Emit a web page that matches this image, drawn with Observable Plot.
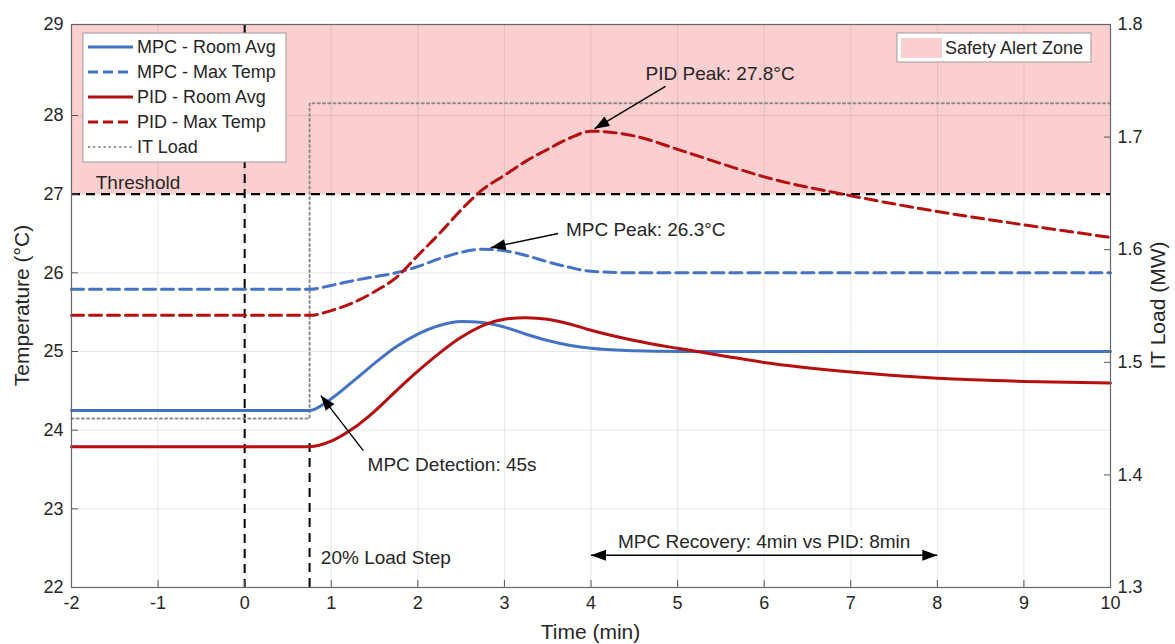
<!DOCTYPE html>
<html>
<head>
<meta charset="utf-8">
<script src="https://cdn.jsdelivr.net/npm/d3@7"></script>
<script src="https://cdn.jsdelivr.net/npm/@observablehq/plot@0.6"></script>
<style>
  body { margin: 0; background: #fff; }
  #chart { width: 1175px; height: 644px; }
</style>
</head>
<body>
<div id="chart"></div>
<script>
// ---------------- data ----------------
const time        = [-2, 0.75, 1, 1.25, 1.5, 1.75, 2, 2.25, 2.5, 2.75, 3, 3.25, 3.5, 3.75, 4, 4.5, 5, 5.5, 6, 7, 8, 9, 10];
const mpcRoomAvg  = [24.25, 24.25, 24.40, 24.62, 24.85, 25.06, 25.22, 25.33, 25.38, 25.37, 25.31, 25.22, 25.14, 25.08, 25.04, 25.01, 25.00, 25.00, 25.00, 25.00, 25.00, 25.00, 25.00];
const mpcMaxTemp  = [25.79, 25.79, 25.84, 25.90, 25.95, 26.00, 26.08, 26.18, 26.26, 26.30, 26.28, 26.22, 26.14, 26.07, 26.02, 26.00, 26.00, 26.00, 26.00, 26.00, 26.00, 26.00, 26.00];
const pidRoomAvg  = [23.79, 23.79, 23.86, 24.02, 24.24, 24.50, 24.75, 24.98, 25.18, 25.33, 25.41, 25.43, 25.41, 25.35, 25.27, 25.14, 25.04, 24.95, 24.86, 24.74, 24.66, 24.62, 24.60];
const pidMaxTemp  = [25.46, 25.46, 25.52, 25.62, 25.76, 25.94, 26.22, 26.50, 26.80, 27.06, 27.24, 27.42, 27.57, 27.71, 27.80, 27.74, 27.57, 27.39, 27.22, 26.98, 26.78, 26.61, 26.45];
const loadTime    = [-2, 0.75, 0.75, 10];
const itLoad      = [1.45, 1.45, 1.73, 1.73];

const xTicks      = [-2, -1, 0, 1, 2, 3, 4, 5, 6, 7, 8, 9, 10];
const tempTicks   = [22, 23, 24, 25, 26, 27, 28, 29];
const loadTicks   = [1.3, 1.4, 1.5, 1.6, 1.7, 1.8];

const threshold   = 27;
const eventTime   = 0;
const stepTime    = 0.75;
const stepLineTop = 23.88;
const recovery    = {from: 4, to: 8, y: 22.41, labelY: 22.58};

const seriesNames = ["MPC - Room Avg", "MPC - Max Temp", "PID - Room Avg", "PID - Max Temp", "IT Load"];

// ---------------- style ----------------
const FONT  = "'Liberation Sans', Arial, Helvetica, sans-serif";
const BLUE  = "#4472c4";
const RED   = "#b50f0f";
const GRAY  = "#8c8c8c";
const PINK  = "#fbcfcf";
const DASH  = "12,6";
const DOTS  = "2,3.2";
const W = 1175, H = 644;
const M = {top: 24, right: 65, bottom: 57, left: 71};
const yOpts = {domain: [22, 28, 29], range: [H - M.bottom, 115, M.top]};
const xOpts = {domain: [-2, 10], range: [M.left, W - M.right]};

const xS = d3.scaleLinear(xOpts.domain, xOpts.range);
const yS = d3.scaleLinear(yOpts.domain, yOpts.range);
const L0 = loadTicks[0], L1 = loadTicks[loadTicks.length - 1];
const loadToPx = L => (H - M.bottom) - (L - L0) / (L1 - L0) * (H - M.bottom - M.top);
const loadToT  = L => yS.invert(loadToPx(L));
const tToLoad  = T => L0 + ((H - M.bottom) - yS(T)) / (H - M.bottom - M.top) * (L1 - L0);

const rows = (vals) => time.map((t, i) => ({t, v: vals[i]}));
const loadRows = loadTime.map((t, i) => ({t, v: loadToT(itLoad[i])}));

// peaks
const pidPeakIdx = pidMaxTemp.indexOf(d3.max(pidMaxTemp));
const mpcPeakIdx = mpcMaxTemp.indexOf(d3.max(mpcMaxTemp));

// annotations (text + arrow tails / tips)
const notes = [
  {text: `PID Peak: ${pidMaxTemp[pidPeakIdx].toFixed(1)}°C`, x: 4.63, y: 28.46},
  {text: `MPC Peak: ${mpcMaxTemp[mpcPeakIdx].toFixed(1)}°C`, x: 3.71, y: 26.55},
  {text: "MPC Detection: 45s", x: 1.42, y: 23.56},
  {text: "20% Load Step", x: 0.88, y: 22.37},
  {text: "Threshold", x: -1.72, y: 27.14}
];
const arrows = [
  {x1: 4.86, y1: 28.32, x2: time[pidPeakIdx] + 0.04, y2: pidMaxTemp[pidPeakIdx] + 0.03},
  {x1: 3.62, y1: 26.50, x2: time[mpcPeakIdx] + 0.09, y2: mpcMaxTemp[mpcPeakIdx] + 0.02},
  {x1: 1.37, y1: 23.74, x2: 0.88, y2: 24.44},
  {x1: 6, y1: recovery.y, x2: recovery.from, y2: recovery.y},
  {x1: 6, y1: recovery.y, x2: recovery.to, y2: recovery.y}
];
const shafts = [arrows[0], arrows[1], arrows[2], {x1: recovery.from, y1: recovery.y, x2: recovery.to, y2: recovery.y}];
const heads = arrows.map(a => {
  const dx = xS(a.x2) - xS(a.x1);
  const dy = yS(a.y2) - yS(a.y1);
  return {x: a.x2, y: a.y2, rot: Math.atan2(dx, -dy) * 180 / Math.PI};
});

const lineSpec = [
  {vals: mpcRoomAvg, color: BLUE, dash: null},
  {vals: mpcMaxTemp, color: BLUE, dash: DASH},
  {vals: pidRoomAvg, color: RED, dash: null},
  {vals: pidMaxTemp, color: RED, dash: DASH}
];

const plot = Plot.plot({
  width: W, height: H,
  marginTop: M.top, marginRight: M.right, marginBottom: M.bottom, marginLeft: M.left,
  style: {fontFamily: FONT, fontSize: "18px", color: "#262626", background: "#fff", overflow: "visible"},
  x: {type: "linear", domain: xOpts.domain},
  y: {type: "linear", domain: yOpts.domain, range: yOpts.range},
  marks: [
    Plot.rect([{x1: xTicks[0], x2: xTicks[xTicks.length - 1], y1: threshold, y2: tempTicks[tempTicks.length - 1]}],
      {x1: "x1", x2: "x2", y1: "y1", y2: "y2", fill: PINK}),
    Plot.gridX(xTicks, {stroke: "#000", strokeOpacity: 0.09}),
    Plot.gridY(tempTicks, {stroke: "#000", strokeOpacity: 0.09}),
    Plot.ruleY([threshold], {stroke: "#000", strokeWidth: 2.2, strokeDasharray: "9,6"}),
    Plot.ruleX([eventTime], {stroke: "#000", strokeWidth: 2, strokeDasharray: "9,6"}),
    Plot.ruleX([stepTime], {y1: 22, y2: stepLineTop, stroke: "#000", strokeWidth: 2, strokeDasharray: "9,6"}),
    Plot.line(loadRows, {x: "t", y: "v", stroke: GRAY, strokeWidth: 2, strokeDasharray: DOTS}),
    ...lineSpec.map(s => Plot.line(rows(s.vals), {
      x: "t", y: "v", stroke: s.color, strokeWidth: 3, curve: "monotone-x",
      strokeDasharray: s.dash || undefined
    })),
    Plot.link(shafts, {x1: "x1", y1: "y1", x2: "x2", y2: "y2", stroke: "#000", strokeWidth: 1.4}),
    Plot.vector(heads, {x: "x", y: "y", rotate: "rot", length: 15, r: 5.5, shape: "spike", anchor: "end", fill: "#000", stroke: "none"}),
    Plot.text(notes, {x: "x", y: "y", text: "text", textAnchor: "start", fontSize: 19, fill: "#262626"}),
    Plot.text([{x: (recovery.from + recovery.to) / 2, y: recovery.labelY}], {x: "x", y: "y",
      text: () => "MPC Recovery: 4min vs PID: 8min", textAnchor: "middle", fontSize: 19, fill: "#262626"}),
    Plot.axisX(xTicks, {anchor: "bottom", tickSize: -7, tickPadding: 16, label: null, fontSize: 18, stroke: "#555",
      tickFormat: d => `${d}`}),
    Plot.axisY(tempTicks, {anchor: "left", tickSize: -7, tickPadding: 15, label: null, fontSize: 18, stroke: "#555",
      tickFormat: d => `${d}`}),
    Plot.axisY(loadTicks.map(loadToT), {anchor: "right", tickSize: -7, tickPadding: 14, label: null, fontSize: 18,
      stroke: "#555", tickFormat: d => tToLoad(d).toFixed(1)}),
    Plot.frame({stroke: "#666", strokeWidth: 1.2})
  ]
});

document.getElementById("chart").appendChild(plot);

// ---------------- legends & axis titles ----------------
const svg = d3.select(plot);
const g = svg.append("g").attr("font-family", FONT).attr("fill", "#262626").attr("text-anchor", "start");

// series legend
const lg = g.append("g");
lg.append("rect").attr("x", 83).attr("y", 33).attr("width", 203).attr("height", 129)
  .attr("fill", "#fff").attr("stroke", "#9a9a9a").attr("stroke-width", 1);
const legendItems = [
  {color: BLUE, dash: null, w: 3},
  {color: BLUE, dash: "10,5", w: 3},
  {color: RED, dash: null, w: 3},
  {color: RED, dash: "10,5", w: 3},
  {color: GRAY, dash: DOTS, w: 2}
];
legendItems.forEach((it, i) => {
  const y = 47 + i * 25;
  lg.append("line").attr("x1", 88).attr("x2", 133).attr("y1", y).attr("y2", y)
    .attr("stroke", it.color).attr("stroke-width", it.w).attr("stroke-dasharray", it.dash);
  lg.append("text").attr("x", 137).attr("y", y).attr("dy", "0.35em").attr("font-size", 18)
    .attr("text-anchor", "start").text(seriesNames[i]);
});

// zone legend
const zg = g.append("g");
zg.append("rect").attr("x", 897).attr("y", 33).attr("width", 194).attr("height", 29)
  .attr("fill", "#fff").attr("stroke", "#9a9a9a");
zg.append("rect").attr("x", 901).attr("y", 38).attr("width", 41).attr("height", 20).attr("fill", PINK);
zg.append("text").attr("x", 945).attr("y", 48).attr("dy", "0.35em").attr("font-size", 18)
  .attr("text-anchor", "start").text("Safety Alert Zone");

// axis titles
g.append("text").attr("x", (M.left + W - M.right) / 2).attr("y", 632).attr("dy", "0.35em")
  .attr("text-anchor", "middle").attr("font-size", 21).text("Time (min)");
g.append("text").attr("transform", `translate(22,${(M.top + H - M.bottom) / 2}) rotate(-90)`).attr("dy", "0.35em")
  .attr("text-anchor", "middle").attr("font-size", 21).text("Temperature (°C)");
g.append("text").attr("transform", `translate(1158,${(M.top + H - M.bottom) / 2}) rotate(-90)`).attr("dy", "0.35em")
  .attr("text-anchor", "middle").attr("font-size", 21).text("IT Load (MW)");
</script>
</body>
</html>
